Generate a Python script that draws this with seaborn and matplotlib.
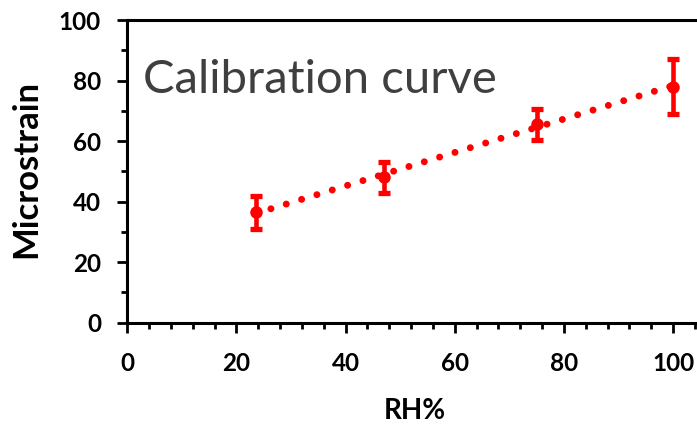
import matplotlib
matplotlib.use("Agg")
import matplotlib.pyplot as plt
import seaborn as sns
import numpy as np
import pandas as pd
from matplotlib.ticker import MultipleLocator

rh = [23.5, 47, 75, 100]
microstrain = [36.5, 48, 65.5, 78]
err = [5.5, 5, 5, 9]
title_text = "Calibration curve"
xlabel = "RH%"
ylabel = "Microstrain"

sns.set_theme(style="white")
plt.rcParams['font.family'] = ['Lato', 'DejaVu Sans']

df = pd.DataFrame({"RH": rh, "Microstrain": microstrain, "err": err})

fig = plt.figure(figsize=(6.97, 4.25), dpi=100)
W, H = 697, 425
x0, y0, ytop = 127.3, 322.7, 20
ppu = 5.457
xmax = 105
ax = fig.add_axes([x0 / W, (H - y0) / H, xmax * ppu / W, (y0 - ytop) / H])

red = "#ff0000"
sns.regplot(data=df, x="RH", y="Microstrain", ci=None, scatter=False, ax=ax,
            line_kws=dict(color=red, lw=5, linestyle=(0, (0.01, 2.3)),
                          dash_capstyle="round", zorder=2))
ax.errorbar(df["RH"], df["Microstrain"], yerr=df["err"], fmt="o", color=red,
            ms=8, elinewidth=3.3, capsize=4.2, capthick=3.8, zorder=3)
ax.set_xlabel("")
ax.set_ylabel("")

ax.set_xlim(0, xmax)
ax.set_ylim(0, 100)
ax.set_xticks([0, 20, 40, 60, 80, 100])
ax.xaxis.set_minor_locator(MultipleLocator(4))
ax.yaxis.set_major_locator(MultipleLocator(20))
ax.yaxis.set_minor_locator(MultipleLocator(10))
ax.tick_params(which="major", direction="out", length=7, width=2, color="black",
               labelsize=17.5, bottom=True, left=True)
ax.tick_params(which="minor", direction="out", length=4.3, width=2, color="black",
               bottom=True, left=True)
ax.tick_params(axis="x", which="major", pad=14)
ax.tick_params(axis="y", which="major", pad=12)
for lab in ax.get_xticklabels() + ax.get_yticklabels():
    lab.set_fontweight("bold")
    lab.set_color("black")

for s in ["left", "bottom", "top"]:
    ax.spines[s].set_visible(True)
    ax.spines[s].set_color("black")
    ax.spines[s].set_linewidth(2.2)
ax.spines["right"].set_visible(False)

fig.text(415 / W, 1 - 411 / H, xlabel, fontsize=20, fontweight="bold",
         color="black", ha="center", va="center")
fig.text(26 / W, 1 - 169 / H, ylabel, fontsize=25, fontweight="bold",
         color="black", ha="center", va="center", rotation=90)

ax.text(2.9, 76, title_text, fontsize=34, color="#3f3f3f", va="baseline",
        ha="left", fontweight="normal")

fig.savefig("out.png", dpi=100)
